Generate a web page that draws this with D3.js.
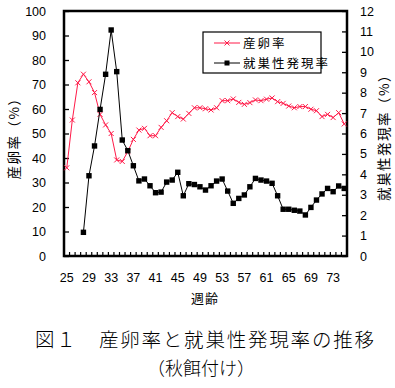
<!DOCTYPE html>
<html>
<head>
<meta charset="utf-8">
<script src="https://cdn.jsdelivr.net/npm/d3@7"></script>
<style>
  body { margin: 0; background: #fff; }
  svg text { font-family: "Liberation Sans", Arial, sans-serif; }
  .jp { font-family: "Noto Sans CJK JP", sans-serif; }
</style>
</head>
<body>
<div id="chart-area"></div>
<script>
// weeks of age 25..75
var weeks = d3.range(25, 76);
var tickWeeks = [25, 29, 33, 37, 41, 45, 49, 53, 57, 61, 65, 69, 73];

// 産卵率 (%), left axis
var layRate = [36, 55.5, 70.7, 74.2, 71.1, 66.7, 57.8, 53.5, 50, 39.2,
  38.6, 42.6, 47.6, 51.4, 52.1, 49.1, 49.1, 52.5, 55.2, 58.5,
  56.9, 55.9, 58.2, 60.5, 60.5, 60.1, 59.6, 60.5, 63.4, 63.4,
  64.1, 62.7, 61.9, 62.6, 63.7, 63.4, 64.0, 64.5, 63.0, 62.3,
  61.2, 60.5, 61.0, 61.0, 59.9, 59.3, 56.9, 57.8, 56.5, 58.5, 53.9];

// 就巣性発現率 (%), right axis, starts at week 28
var broodWeeks = d3.range(28, 76);
var broodRate = [1.16, 3.93, 5.39, 7.18, 8.9, 11.07, 9.03, 5.68, 5.16, 4.42,
  3.68, 3.77, 3.44, 3.1, 3.13, 3.62, 3.72, 4.1, 2.95, 3.54,
  3.5, 3.39, 3.23, 3.44, 3.67, 3.77, 3.18, 2.58, 2.82, 2.99,
  3.39, 3.8, 3.72, 3.67, 3.56, 2.95, 2.29, 2.29, 2.24, 2.2,
  2.01, 2.38, 2.74, 3.04, 3.31, 3.15, 3.43, 3.31];

var leftTicks = d3.range(0, 101, 10);
var rightTicks = d3.range(0, 13, 1);

var W = 395, H = 388;
var plot = { left: 64, right: 347, top: 11, bottom: 256 };

var svg = d3.select("#chart-area").append("svg")
  .attr("width", W).attr("height", H);

var x = d3.scaleBand().domain(weeks).range([plot.left, plot.right]).padding(0);
var yL = d3.scaleLinear().domain([0, 100]).range([plot.bottom, plot.top]);
var yR = d3.scaleLinear().domain([0, 12]).range([plot.bottom, plot.top]);
var cx = d => x(d) + x.bandwidth() / 2;

// left axis (ticks inside)
var axL = svg.append("g").attr("transform", "translate(" + plot.left + ",0)")
  .call(d3.axisLeft(yL).tickValues(leftTicks).tickSize(-5).tickPadding(18));
// right axis
var axR = svg.append("g").attr("transform", "translate(" + plot.right + ",0)")
  .call(d3.axisRight(yR).tickValues(rightTicks).tickSize(-5).tickPadding(13));
[axL, axR].forEach(a => {
  a.select(".domain").remove();
  a.selectAll("line").attr("stroke", "#000").attr("stroke-width", 1.3);
  a.selectAll("text").attr("font-size", "12.5px").attr("fill", "#000");
});

// x ticks at category boundaries, pointing up
svg.append("g").selectAll("line")
  .data(weeks.slice(1))
  .enter().append("line")
  .attr("x1", d => x(d)).attr("x2", d => x(d))
  .attr("y1", plot.bottom).attr("y2", plot.bottom - 4)
  .attr("stroke", "#000").attr("stroke-width", 1.2);

svg.append("g").selectAll("text")
  .data(tickWeeks)
  .enter().append("text")
  .attr("x", cx).attr("y", 282)
  .attr("text-anchor", "middle")
  .attr("font-size", "12.5px")
  .text(d => d);

// frame
svg.append("rect")
  .attr("x", plot.left).attr("y", plot.top)
  .attr("width", plot.right - plot.left).attr("height", plot.bottom - plot.top)
  .attr("fill", "none").attr("stroke", "#000").attr("stroke-width", 2.5);

var red = "#ff1a48";

// 産卵率 line
var lineL = d3.line().x((d, i) => cx(weeks[i])).y(d => yL(d));
svg.append("path").datum(layRate)
  .attr("d", lineL).attr("fill", "none")
  .attr("stroke", red).attr("stroke-width", 1);
svg.append("g").selectAll("path")
  .data(layRate)
  .enter().append("path")
  .attr("transform", (d, i) => "translate(" + cx(weeks[i]) + "," + yL(d) + ")")
  .attr("d", "M-2.5,-2.5L2.5,2.5M-2.5,2.5L2.5,-2.5")
  .attr("stroke", red).attr("stroke-width", 1);

// 就巣性発現率 line
var lineR = d3.line().x((d, i) => cx(broodWeeks[i])).y(d => yR(d));
svg.append("path").datum(broodRate)
  .attr("d", lineR).attr("fill", "none")
  .attr("stroke", "#000").attr("stroke-width", 1);
svg.append("g").selectAll("rect")
  .data(broodRate)
  .enter().append("rect")
  .attr("x", (d, i) => cx(broodWeeks[i]) - 2.7)
  .attr("y", d => yR(d) - 2.7)
  .attr("width", 5.4).attr("height", 5.4)
  .attr("fill", "#000");

// legend
var lg = svg.append("g");
lg.append("rect").attr("x", 203).attr("y", 32).attr("width", 118).attr("height", 41)
  .attr("fill", "#fff").attr("stroke", "#000").attr("stroke-width", 1.2);
lg.append("line").attr("x1", 214).attr("x2", 240).attr("y1", 43).attr("y2", 43)
  .attr("stroke", red);
lg.append("path").attr("transform", "translate(227,43)")
  .attr("d", "M-2.5,-2.5L2.5,2.5M-2.5,2.5L2.5,-2.5").attr("stroke", red);
lg.append("line").attr("x1", 214).attr("x2", 240).attr("y1", 63).attr("y2", 63)
  .attr("stroke", "#000");
lg.append("rect").attr("x", 224.5).attr("y", 60.5).attr("width", 5).attr("height", 5)
  .attr("fill", "#000");
lg.append("text").attr("class", "jp").attr("x", 243).attr("y", 47.5)
  .attr("font-size", "12.5px").attr("letter-spacing", "2px").text("産卵率");
lg.append("text").attr("class", "jp").attr("x", 243).attr("y", 67.5)
  .attr("font-size", "12.5px").attr("letter-spacing", "2px").text("就巣性発現率");

// axis titles
svg.append("text").attr("class", "jp")
  .attr("transform", "translate(19,135) rotate(-90)")
  .attr("text-anchor", "middle").attr("font-size", "13.5px").attr("letter-spacing", "1.5px")
  .text("産卵率（%）");
svg.append("text").attr("class", "jp")
  .attr("transform", "translate(389,134) rotate(-90)")
  .attr("text-anchor", "middle").attr("font-size", "13.5px").attr("letter-spacing", "1.5px")
  .text("就巣性発現率（%）");
svg.append("text").attr("class", "jp")
  .attr("x", 205).attr("y", 303)
  .attr("text-anchor", "middle").attr("font-size", "13px").attr("letter-spacing", "1px")
  .text("週齢");

// caption
svg.append("text").attr("class", "jp")
  .attr("x", 35).attr("y", 347)
  .attr("font-size", "19.5px").attr("font-weight", 300).attr("letter-spacing", "1.8px")
  .text("図１　産卵率と就巣性発現率の推移");
svg.append("text").attr("class", "jp")
  .attr("x", 201).attr("y", 375)
  .attr("text-anchor", "middle")
  .attr("font-size", "18px").attr("font-weight", 300)
  .text("（秋餌付け）");
</script>
</body>
</html>
